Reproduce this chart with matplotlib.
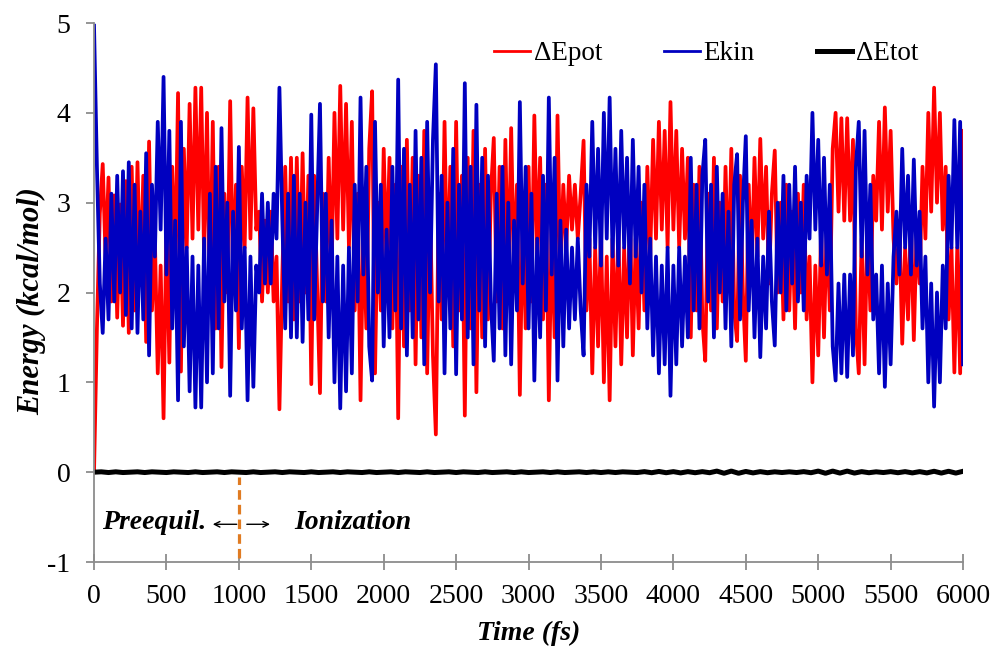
import matplotlib
import numpy as np

matplotlib.use("Agg")  # no display, just write the PNG
import matplotlib.pyplot as plt

plt.rcParams["font.family"] = ["Liberation Serif", "DejaVu Serif"]
plt.rcParams["axes.unicode_minus"] = False

# Ekin / dEpot peaks and troughs every 20 fs (0 .. 6000 fs)
TIME_FS = np.arange(0, 6001, 20)
EKIN = [
    4.97, 3.40, 2.10, 1.55, 2.60, 1.70, 3.10, 1.90, 3.30, 2.00,
    3.35, 1.75, 3.45, 1.60, 3.20, 1.55, 2.90, 1.70, 3.55, 1.30,
    3.20, 2.40, 3.90, 2.70, 4.40, 2.20, 3.80, 1.60, 2.80, 0.80,
    3.90, 1.40, 2.50, 0.90, 2.40, 0.72, 2.30, 0.72, 2.60, 1.00,
    3.10, 1.10, 3.40, 1.60, 3.83, 1.90, 3.00, 0.85, 2.90, 1.80,
    3.62, 1.60, 2.50, 0.80, 2.40, 0.95, 2.30, 2.00, 3.10, 2.10,
    3.00, 2.10, 3.10, 2.60, 4.28, 2.80, 1.60, 3.10, 1.50, 3.30,
    1.50, 3.10, 1.45, 3.00, 1.70, 3.98, 1.70, 2.90, 4.10, 1.90,
    3.10, 1.50, 2.80, 1.00, 2.40, 0.71, 2.30, 0.90, 2.50, 1.10,
    3.20, 1.90, 4.17, 2.20, 3.40, 1.40, 1.02, 3.90, 2.00, 3.20,
    1.40, 2.70, 1.50, 3.40, 1.80, 4.37, 1.60, 3.60, 1.30, 3.20,
    1.50, 3.80, 1.70, 3.50, 1.20, 3.90, 2.00, 3.70, 4.54, 1.90,
    3.30, 1.10, 3.00, 1.60, 3.60, 1.09, 3.20, 1.70, 4.33, 1.50,
    3.40, 1.20, 4.09, 1.80, 3.50, 1.40, 3.30, 1.90, 1.24, 3.10,
    1.60, 3.40, 1.30, 3.00, 1.20, 2.80, 1.80, 4.12, 2.10, 3.40,
    1.60, 3.10, 1.02, 2.60, 1.50, 3.30, 1.80, 4.17, 2.20, 3.50,
    1.02, 2.80, 1.40, 2.70, 1.60, 2.50, 1.70, 2.60, 1.80, 1.30,
    3.20, 2.40, 3.90, 2.50, 3.60, 2.30, 4.00, 2.60, 4.17, 2.40,
    3.60, 2.30, 3.80, 2.50, 3.50, 2.10, 3.70, 2.40, 3.40, 2.00,
    3.20, 1.60, 2.60, 1.30, 2.40, 1.10, 2.30, 1.20, 2.50, 0.85,
    2.30, 1.20, 2.50, 1.40, 2.40, 1.50, 3.50, 1.80, 3.20, 1.60,
    3.30, 3.70, 1.90, 3.20, 1.50, 3.40, 2.00, 3.10, 1.60, 2.90,
    1.40, 3.20, 3.54, 1.70, 3.00, 3.74, 1.80, 2.80, 1.50, 2.60,
    1.28, 2.40, 1.60, 2.90, 1.90, 1.41, 3.00, 2.00, 3.30, 1.80,
    3.20, 2.10, 3.40, 1.90, 3.00, 1.80, 3.30, 2.60, 4.00, 2.70,
    3.70, 2.30, 3.50, 2.20, 3.20, 1.40, 1.02, 2.10, 1.10, 2.20,
    1.06, 2.20, 1.30, 3.40, 3.90, 2.40, 3.80, 2.20, 3.20, 1.70,
    2.20, 1.10, 2.30, 0.95, 2.10, 1.20, 2.40, 2.90, 2.20, 3.60,
    2.50, 3.30, 2.20, 3.48, 2.30, 2.90, 1.60, 2.40, 1.00, 2.10,
    0.73, 2.00, 1.00, 2.30, 1.60, 3.30, 2.50, 3.92, 2.50, 3.90,
    1.20,
]
DELTA_EPOT = [
    0.00, 1.60, 2.88, 3.43, 2.38, 3.28, 1.90, 3.08, 1.72, 2.98,
    1.63, 3.24, 1.55, 3.40, 1.80, 3.45, 2.08, 3.30, 1.45, 3.68,
    1.80, 2.60, 1.10, 2.30, 0.60, 2.80, 1.22, 3.40, 2.20, 4.22,
    1.12, 3.60, 2.50, 4.10, 2.60, 4.28, 2.70, 4.28, 2.40, 4.00,
    1.90, 3.90, 1.60, 3.40, 1.17, 3.10, 2.00, 4.13, 2.10, 3.20,
    1.38, 3.40, 2.50, 4.17, 2.60, 4.05, 2.70, 2.90, 1.90, 2.80,
    2.00, 2.90, 1.90, 2.40, 0.70, 2.20, 3.40, 1.90, 3.50, 1.70,
    3.50, 1.90, 3.55, 2.00, 3.30, 0.98, 3.30, 2.10, 0.88, 3.10,
    1.90, 3.50, 2.20, 4.00, 2.60, 4.30, 2.70, 4.10, 2.50, 3.90,
    1.80, 3.10, 0.80, 2.80, 1.60, 3.60, 4.24, 1.10, 3.00, 1.80,
    3.60, 2.30, 3.50, 1.60, 3.20, 0.60, 3.40, 1.40, 3.70, 1.80,
    3.50, 1.20, 3.30, 1.50, 3.80, 1.10, 3.00, 1.30, 0.42, 3.10,
    1.70, 3.90, 2.00, 3.40, 1.40, 3.90, 1.80, 3.30, 0.63, 3.50,
    1.60, 3.80, 0.89, 3.20, 1.50, 3.60, 1.70, 3.10, 3.72, 1.90,
    3.40, 1.60, 3.70, 2.00, 3.83, 2.20, 3.20, 0.86, 2.90, 1.60,
    3.40, 1.90, 3.97, 2.40, 3.50, 1.70, 3.20, 0.80, 2.80, 1.50,
    3.97, 2.20, 3.20, 2.50, 3.30, 2.70, 3.20, 2.60, 3.10, 3.69,
    1.80, 2.60, 1.10, 2.50, 1.40, 2.70, 1.00, 2.40, 0.80, 2.60,
    1.40, 2.70, 1.20, 2.50, 1.50, 2.90, 1.30, 2.60, 1.60, 3.00,
    1.80, 3.40, 2.40, 3.70, 2.60, 3.90, 2.70, 3.80, 2.50, 4.12,
    2.70, 3.80, 2.50, 3.60, 2.60, 3.50, 1.50, 3.20, 1.80, 3.40,
    1.70, 1.24, 3.10, 1.80, 3.50, 1.60, 3.00, 1.90, 3.40, 2.10,
    3.60, 1.80, 1.46, 3.30, 2.00, 1.24, 3.20, 2.20, 3.50, 2.40,
    3.71, 2.60, 3.40, 2.10, 3.10, 3.58, 2.00, 3.00, 1.70, 3.20,
    1.80, 2.90, 1.60, 3.10, 2.00, 3.20, 1.70, 2.40, 1.00, 2.30,
    1.30, 2.70, 1.50, 2.80, 1.80, 3.60, 4.00, 2.90, 3.94, 2.80,
    3.94, 2.80, 3.70, 1.60, 1.10, 2.60, 1.20, 2.80, 1.80, 3.30,
    2.80, 3.90, 2.70, 4.06, 2.90, 3.80, 2.60, 2.10, 2.80, 1.43,
    2.50, 1.70, 2.80, 1.47, 2.70, 2.10, 3.40, 2.60, 4.00, 2.90,
    4.28, 3.00, 4.00, 2.70, 3.40, 1.70, 2.50, 1.11, 2.50, 1.10,
    3.80,
]
# total energy drift, every 50 fs
TIME_TOT_FS = np.arange(0, 6001, 50)
DELTA_ETOT = [
    0.000, 0.004, -0.004, 0.004, -0.004, 0.000, 0.004, -0.004, 0.004, 0.000,
    -0.004, 0.004, 0.000, -0.004, 0.004, -0.004, 0.000, 0.004, -0.004, 0.004,
    0.000, -0.004, 0.004, -0.004, 0.000, 0.004, -0.004, 0.004, 0.000, -0.004,
    0.004, -0.004, 0.000, 0.004, -0.004, 0.004, 0.000, -0.004, 0.004, -0.004,
    0.000, 0.004, -0.004, 0.004, 0.000, -0.004, 0.004, -0.004, 0.000, 0.004,
    -0.004, 0.004, 0.000, -0.004, 0.004, -0.004, 0.000, 0.004, -0.004, 0.004,
    -0.004, 0.000, 0.004, -0.004, 0.004, -0.004, 0.000, 0.004, -0.004, 0.004,
    -0.004, 0.004, -0.004, 0.004, 0.000, -0.004, 0.006, -0.006, 0.008, -0.006,
    0.006, -0.008, 0.006, -0.006, 0.006, -0.006, 0.012, -0.012, 0.012, -0.012,
    0.008, -0.008, 0.006, -0.006, 0.004, -0.004, 0.004, -0.004, 0.006, -0.006,
    0.012, -0.012, 0.012, -0.010, 0.012, -0.010, 0.006, -0.006, 0.004, -0.004,
    0.006, -0.006, 0.006, -0.008, 0.006, -0.008, 0.010, -0.010, 0.010, -0.010,
    0.010,
]

IONIZATION_FS = 1000
X_TICKS = list(range(0, 6001, 500))
Y_TICKS = [-1, 0, 1, 2, 3, 4, 5]

RED = "#FF0000"
BLUE = "#0000C0"
AXIS_GREY = "#8C8C8C"
ORANGE = "#E07B22"


def plot_energies(path="out.png"):
    assert len(EKIN) == len(TIME_FS) == len(DELTA_EPOT)
    assert len(DELTA_ETOT) == len(TIME_TOT_FS)

    fig = plt.figure(figsize=(9.95, 6.48), dpi=100)
    ax = fig.add_axes([0.0945, 0.1327, 0.8734, 0.8318])

    ax.plot(TIME_FS, DELTA_EPOT, color=RED, lw=2.7, label="ΔEpot")
    ax.plot(TIME_FS, EKIN, color=BLUE, lw=2.7, label="Ekin")
    ax.plot(TIME_TOT_FS, DELTA_ETOT, color="black", lw=3.6, label="ΔEtot")

    # preequilibration / ionization split
    ax.axvline(IONIZATION_FS, ymin=0.008, ymax=0.158, color=ORANGE,
               lw=2.3, ls=(0, (3, 1.6)))
    bold_it = dict(fontsize=20, fontweight="bold", fontstyle="italic")
    ax.text(414, -0.56, "Preequil.", ha="center", va="center", **bold_it)
    ax.text(1790, -0.56, "Ionization", ha="center", va="center", **bold_it)
    arrow = dict(arrowstyle="->", color="black", lw=1.0, shrinkA=0, shrinkB=0)
    ax.annotate("", xy=(820, -0.58), xytext=(985, -0.58), arrowprops=arrow)
    ax.annotate("", xy=(1215, -0.58), xytext=(1055, -0.58), arrowprops=arrow)

    ax.set_xlim(0, 6000)
    ax.set_ylim(-1, 5)
    ax.set_xticks(X_TICKS)
    ax.set_yticks(Y_TICKS)
    ax.set_yticks([1, 2, 3, 4, 5], minor=True)
    ax.yaxis.grid(True, which="minor", color="#D9D9D9", lw=1.0, ls=(0, (4, 4)))
    ax.set_axisbelow(True)

    for side in ("top", "right"):
        ax.spines[side].set_visible(False)
    for side in ("left", "bottom"):
        ax.spines[side].set_color(AXIS_GREY)
        ax.spines[side].set_linewidth(1.3)
    ax.tick_params(axis="x", direction="inout", length=11, width=1.3,
                   color=AXIS_GREY, labelsize=20, pad=10)
    ax.tick_params(axis="y", direction="out", length=6, width=1.3,
                   color=AXIS_GREY, labelsize=20, pad=11)
    ax.tick_params(axis="y", which="minor", length=0)

    ax.set_xlabel("Time (fs)", fontsize=20, fontweight="bold",
                  fontstyle="italic", labelpad=9)
    ax.set_ylabel("Energy (kcal/mol)", fontsize=22, fontweight="bold",
                  fontstyle="italic", labelpad=1)
    ax.yaxis.label.set_y(0.484)

    leg = ax.legend(loc="center right", bbox_to_anchor=(0.949, 0.943), ncol=3,
                    frameon=False, fontsize=19.5, handlelength=1.3,
                    handletextpad=0.15, columnspacing=2.3, borderpad=0,
                    borderaxespad=0)
    for handle in leg.get_lines()[:2]:
        handle.set_linewidth(2.0)

    fig.savefig(path, dpi=100)
    plt.close(fig)


if __name__ == "__main__":
    plot_energies()
